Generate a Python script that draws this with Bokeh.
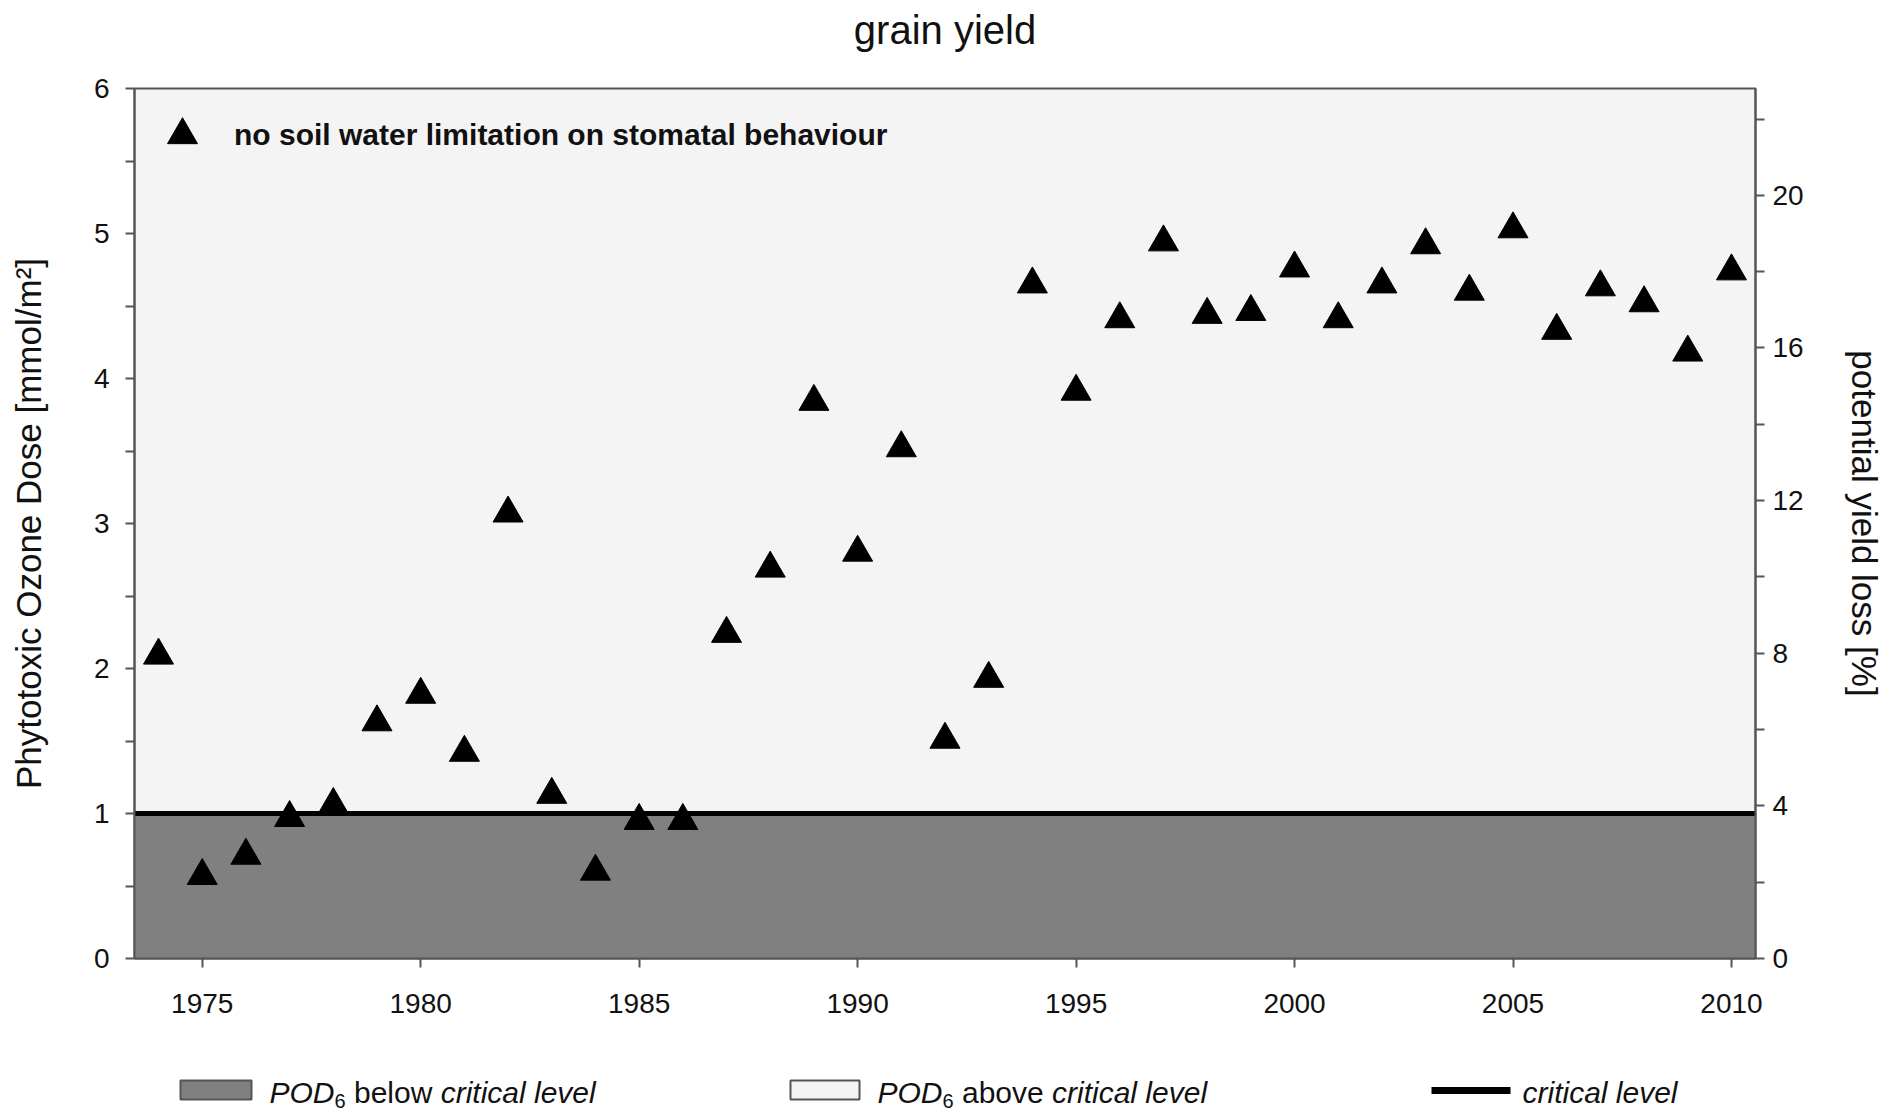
from bokeh.plotting import figure
from bokeh.models import (Range1d, LinearAxis, FixedTicker, BoxAnnotation, Span,
                          Legend, LegendItem)
from bokeh.layouts import column
from bokeh.core.properties import value
from bokeh.embed import file_html
from bokeh.resources import INLINE

# ---------------- data ----------------
years = [1974, 1975, 1976, 1977, 1978, 1979, 1980, 1981, 1982, 1983, 1984, 1985,
         1986, 1987, 1988, 1989, 1990, 1991, 1992, 1993, 1994, 1995, 1996, 1997,
         1998, 1999, 2000, 2001, 2002, 2003, 2004, 2005, 2006, 2007, 2008, 2009, 2010]
pod6 = [2.09, 0.57, 0.71, 0.97, 1.06, 1.63, 1.82, 1.42, 3.07, 1.13, 0.60, 0.95,
        0.95, 2.24, 2.69, 3.84, 2.80, 3.52, 1.51, 1.93, 4.65, 3.91, 4.41, 4.94,
        4.44, 4.46, 4.76, 4.41, 4.65, 4.92, 4.60, 5.03, 4.33, 4.63, 4.52, 4.18, 4.74]
critical_level = 1.0

x_ticks = [1975, 1980, 1985, 1990, 1995, 2000, 2005, 2010]
y_ticks = [0, 1, 2, 3, 4, 5, 6]
y_minor_ticks = [0.5, 1.5, 2.5, 3.5, 4.5, 5.5]
loss_ticks = [0, 4, 8, 12, 16, 20]
loss_minor_ticks = [2, 6, 10, 14, 18, 22]
x_limits = (1973.45, 2010.55)
y_limits = (0, 6)
loss_limits = (0, 22.8)

title_text = "grain yield"
series_label = "no soil water limitation on stomatal behaviour"
y_label = "Phytotoxic Ozone Dose [mmol/m\u00b2]"
y2_label = "potential yield loss [%]"
legend_below = "below"
legend_above = "above"
legend_pod = "POD"
legend_sub = "6"
legend_crit = "critical level"

# ---------------- layout / styling ----------------
FONT = "Liberation Sans"
AXIS_COLOR = "#555555"
LIGHT = "#f4f4f4"
DARK = "#808080"
W = 1895
FRAME_LEFT, FRAME_RIGHT = 134, 1755
H0 = 60            # title strip
H1 = 970           # main plot
H2 = 84            # legend strip
FRAME_TOP, FRAME_BOTTOM = 88, 958   # page pixels


def strip(height):
    s = figure(width=W, height=height, x_range=Range1d(FRAME_LEFT, FRAME_RIGHT),
               y_range=Range1d(0, height),
               output_backend="svg", toolbar_location=None,
               x_axis_location=None, y_axis_location=None,
               min_border_left=FRAME_LEFT, min_border_right=W - FRAME_RIGHT,
               min_border_top=0, min_border_bottom=0, outline_line_color=None,
               background_fill_color="white", border_fill_color="white")
    s.grid.visible = False
    return s


# ---------------- title strip ----------------
p0 = strip(H0)
p0.text(x=[(FRAME_LEFT + FRAME_RIGHT) / 2], y=[H0 - 29], text=[title_text],
        text_font=value(FONT), text_font_size=value("40px"),
        text_align="center", text_baseline="middle", text_color="#111111")

# ---------------- main plot ----------------
p = figure(width=W, height=H1,
           x_range=Range1d(*x_limits), y_range=Range1d(*y_limits),
           output_backend="svg", toolbar_location=None,
           min_border_left=FRAME_LEFT, min_border_right=W - FRAME_RIGHT,
           min_border_top=FRAME_TOP - H0,
           min_border_bottom=H0 + H1 - FRAME_BOTTOM,
           background_fill_color=LIGHT, border_fill_color="white",
           outline_line_color=AXIS_COLOR, outline_line_width=2)
p.grid.visible = False

p.extra_y_ranges = {"loss": Range1d(*loss_limits)}
right_axis = LinearAxis(y_range_name="loss",
                        ticker=FixedTicker(ticks=loss_ticks, minor_ticks=loss_minor_ticks),
                        axis_label=y2_label)
p.add_layout(right_axis, "right")

p.xaxis.ticker = FixedTicker(ticks=x_ticks, minor_ticks=[])
p.yaxis[0].ticker = FixedTicker(ticks=y_ticks, minor_ticks=y_minor_ticks)
p.yaxis[0].axis_label = y_label

for ax in [p.xaxis[0], p.yaxis[0], right_axis]:
    ax.axis_line_color = AXIS_COLOR
    ax.axis_line_width = 2
    ax.major_tick_line_color = AXIS_COLOR
    ax.minor_tick_line_color = AXIS_COLOR
    ax.major_tick_line_width = 2
    ax.minor_tick_line_width = 2
    ax.major_tick_in = 0
    ax.minor_tick_in = 0
    ax.major_tick_out = 9
    ax.minor_tick_out = 9
    ax.major_label_text_font = FONT
    ax.major_label_text_font_size = "28px"
    ax.major_label_text_color = "#111111"
    ax.axis_label_text_font = FONT
    ax.axis_label_text_font_size = "35px"
    ax.axis_label_text_font_style = "normal"
    ax.axis_label_text_color = "#111111"

p.xaxis[0].major_label_standoff = 26
p.yaxis[0].major_label_standoff = 16
p.yaxis[0].axis_label_standoff = 43
right_axis.major_label_standoff = 8
right_axis.axis_label_standoff = 38

below_box = BoxAnnotation(top=critical_level, fill_color=DARK, fill_alpha=1,
                          line_alpha=0, level="underlay")
p.add_layout(below_box)
crit = Span(location=critical_level, dimension="width", line_color="black",
            line_width=5, level="underlay")
p.add_layout(crit)

r = p.scatter(years, pod6, marker="triangle", size=30, color="black")

legend = Legend(items=[LegendItem(label=series_label, renderers=[r])],
                location="top_left", margin=0, padding=9,
                glyph_width=78, glyph_height=75, label_standoff=13,
                label_text_font=FONT, label_text_font_size="30px",
                label_text_font_style="bold", label_text_color="#111111",
                background_fill_alpha=0, border_line_alpha=0)
p.add_layout(legend)

# ---------------- legend strip below (x data == page pixels) ----------------
p2 = strip(H2)

ARIAL_W = {'P': 667, 'O': 778, 'D': 722, '6': 556, ' ': 278, 'b': 556, 'e': 556,
           'l': 222, 'o': 556, 'w': 722, 'a': 556, 'v': 500, 'c': 500, 'r': 333,
           'i': 222, 't': 278}


def tw(s, size):
    return sum(ARIAL_W.get(ch, 556) for ch in s) / 1000.0 * size


FS, SUB = 30, 20
BASE, SUB_BASE = 22, 14
groups = {}


def put(x, y, txt, style, size):
    g = groups.setdefault((style, size), {"x": [], "y": [], "t": []})
    g["x"].append(x)
    g["y"].append(y)
    g["t"].append(txt)


for x0, word in [(269, legend_below), (877, legend_above)]:
    x = x0
    put(x, BASE, legend_pod, "italic", FS)
    x += tw(legend_pod, FS)
    put(x, SUB_BASE, legend_sub, "normal", SUB)
    x += tw(legend_sub, SUB) + tw(" ", FS)
    put(x, BASE, word, "normal", FS)
    x += tw(word, FS) + tw(" ", FS)
    put(x, BASE, legend_crit, "italic", FS)
put(1522, BASE, legend_crit, "italic", FS)

for (style, size), g in groups.items():
    p2.text(x=g["x"], y=g["y"], text=g["t"], text_font=value(FONT),
            text_font_size=value(f"{size}px"), text_font_style=style,
            text_baseline="alphabetic", text_align="left", text_color="#111111")

p2.quad(left=[180, 790], right=[251, 859], bottom=[15, 15], top=[34, 34],
        fill_color=[DARK, LIGHT], line_color=AXIS_COLOR, line_width=2)
p2.line(x=[1431, 1510], y=[24, 24], line_width=7, line_color="black")

layout = column(p0, p, p2, spacing=0)
open("out.html", "w").write(file_html(layout, INLINE))
